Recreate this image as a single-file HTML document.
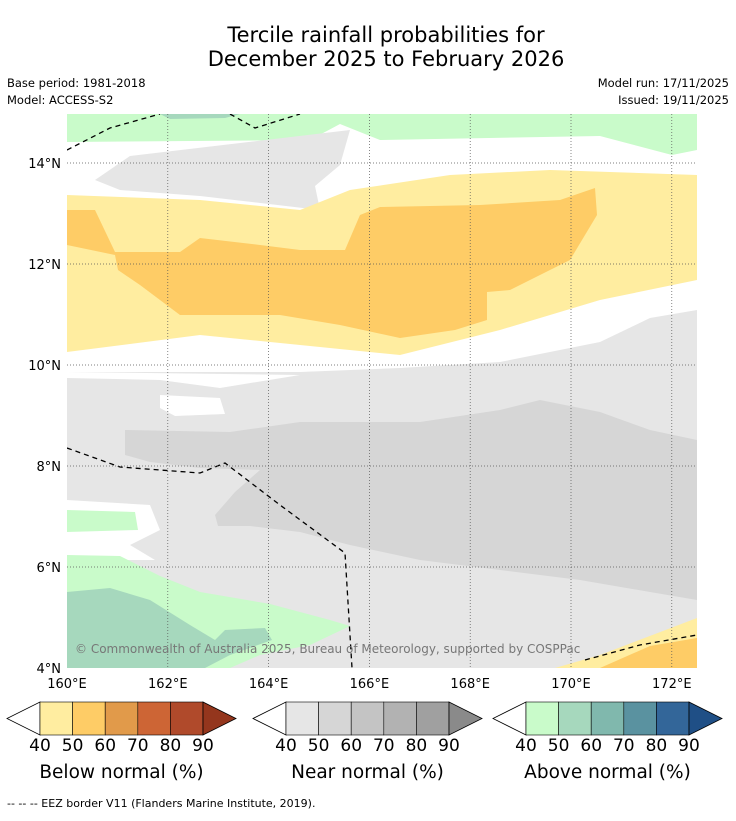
<!DOCTYPE html>
<html><head><meta charset="utf-8">
<style>
body{margin:0;background:#fff;font-family:"Liberation Sans","DejaVu Sans",sans-serif;}
svg text{font-family:"DejaVu Sans","Liberation Sans",sans-serif;}
</style></head>
<body>
<svg id="chart" width="736" height="816" xmlns="http://www.w3.org/2000/svg">
<rect width="736" height="816" fill="#fff"/>
<text x="386" y="42" font-size="21" text-anchor="middle">Tercile rainfall probabilities for</text>
<text x="386" y="66" font-size="21" text-anchor="middle">December 2025 to February 2026</text>
<text x="7" y="87" font-size="11.5">Base period: 1981-2018</text>
<text x="7" y="104" font-size="11.5">Model: ACCESS-S2</text>
<text x="729" y="87" font-size="11.5" text-anchor="end">Model run: 17/11/2025</text>
<text x="729" y="104" font-size="11.5" text-anchor="end">Issued: 19/11/2025</text>
<defs><clipPath id="mapclip"><rect x="67" y="114" width="630" height="554"/></clipPath></defs>
<g id="map" clip-path="url(#mapclip)"></g>
<g id="grid"></g>
<g id="axes"></g>
<text x="75" y="653" font-size="12" fill="#777">© Commonwealth of Australia 2025, Bureau of Meteorology, supported by COSPPac</text>
<g id="bars"></g>
<text x="7" y="807" font-size="11">--  --  -- EEZ border V11 (Flanders Marine Institute, 2019).</text>
</svg>
<script>
const lonTicks=[160,162,164,166,168,170,172];
const latTicks=[4,6,8,10,12,14];
const levels=[40,50,60,70,80,90];
const belowColors=["#ffeda0","#fecc66","#e19a4a","#cd6535","#b04a2b","#94361d"];
const nearColors=["#e6e6e6","#d6d6d6","#c4c4c4","#b2b2b2","#a0a0a0","#8a8a8a"];
const aboveColors=["#c9fbca","#a6d8bd","#80b8ad","#5a92a0","#336699","#1f4f86"];
const ns="http://www.w3.org/2000/svg";
const X=lon=>67+(lon-160)*50.4, Y=lat=>668-(lat-4)*50.5;
const P=(pts)=>pts.map(p=>[160+(p[0]-67)/50.4,4+(668-p[1])/50.5]);
const regions=[
 ["near-40",nearColors[0],P([[67,372],[300,372],[400,368],[500,362],[600,342],[650,318],[697,310],[697,668],[67,668]])],
 ["white-gap-1","#fff",P([[67,378],[160,380],[220,388],[300,375],[67,372]])],
 ["white-island","#fff",P([[160,395],[220,398],[225,414],[175,416],[160,408]])],
 ["near-50",nearColors[1],P([[125,430],[230,432],[300,422],[420,422],[500,410],[540,400],[600,412],[650,430],[697,440],[697,600],[650,592],[580,580],[500,570],[420,560],[350,545],[300,532],[250,526],[218,526],[215,515],[235,492],[260,470],[200,468],[150,462],[125,455]])],
 ["white-gap-left","#fff",P([[67,500],[150,505],[160,530],[130,545],[155,560],[67,560]])],
 ["above-40-left",aboveColors[0],P([[67,510],[135,512],[138,530],[67,532]])],
 ["above-40-bottom",aboveColors[0],P([[67,555],[120,556],[160,576],[200,592],[270,604],[330,620],[350,626],[310,645],[260,655],[230,668],[67,668]])],
 ["above-50-bottom",aboveColors[1],P([[67,592],[110,588],[150,600],[190,625],[215,640],[225,630],[265,628],[272,640],[230,655],[205,668],[67,668]])],
 ["white-top-gap","#fff",P([[67,140],[697,148],[697,178],[550,172],[450,177],[350,190],[300,210],[200,200],[67,195]])],
 ["above-40-top",aboveColors[0],P([[67,114],[697,114],[697,150],[672,155],[600,136],[380,140],[340,124],[310,140],[67,142]])],
 ["above-50-top",aboveColors[1],P([[160,114],[240,114],[225,118],[170,119]])],
 ["near-40-top",nearColors[0],P([[95,180],[130,156],[350,130],[340,165],[315,186],[320,210],[200,196],[120,190]])],
 ["below-40",belowColors[0],P([[67,195],[200,200],[300,210],[350,190],[450,175],[550,170],[697,175],[697,280],[600,300],[500,330],[400,355],[300,345],[200,335],[67,352]])],
 ["below-50",belowColors[1],P([[67,210],[95,210],[115,252],[180,252],[200,238],[260,245],[300,250],[345,250],[360,215],[380,207],[480,205],[560,200],[595,188],[597,215],[570,260],[510,290],[487,292],[487,320],[455,330],[400,338],[340,325],[280,315],[180,315],[140,285],[118,270],[115,255],[67,245]])],
 ["below-40-br",belowColors[0],P([[555,668],[600,655],[697,618],[697,668]])],
 ["below-50-br",belowColors[1],P([[600,668],[650,646],[697,638],[697,668]])]
];
const map=document.getElementById('map');
regions.forEach(r=>{
 const p=document.createElementNS(ns,'polygon');
 p.setAttribute('points',r[2].map(q=>X(q[0])+','+Y(q[1])).join(' '));
 p.setAttribute('fill',r[1]);
 
 
 map.appendChild(p);
});
const eez=[P([[67,448],[120,467],[200,473],[225,463],[280,505],[345,553],[352,668]]),P([[67,150],[110,128],[160,114]]),P([[230,114],[255,128],[300,114]]),P([[585,660],[640,645],[697,635]])];
eez.forEach(l=>{
 const pl=document.createElementNS(ns,'polyline');
 pl.setAttribute('points',l.map(q=>X(q[0])+','+Y(q[1])).join(' '));
 pl.setAttribute('fill','none');pl.setAttribute('stroke','#000');pl.setAttribute('stroke-width','1.3');pl.setAttribute('stroke-dasharray','5,4');
 
 
 map.appendChild(pl);
});
const grid=document.getElementById('grid'),axes=document.getElementById('axes');
lonTicks.forEach(l=>{
 if(l>160){const g=document.createElementNS(ns,'line');g.setAttribute('x1',X(l));g.setAttribute('x2',X(l));g.setAttribute('y1',114);g.setAttribute('y2',668);g.setAttribute('stroke','#555');g.setAttribute('stroke-width','0.7');g.setAttribute('stroke-dasharray','1,2');
 
 
 grid.appendChild(g);}
 const t=document.createElementNS(ns,'text');t.setAttribute('x',X(l));t.setAttribute('y',688);t.setAttribute('font-size','13');t.setAttribute('text-anchor','middle');t.textContent=l+'°E';
 
 
 axes.appendChild(t);
});
latTicks.forEach(l=>{
 if(l>4){const g=document.createElementNS(ns,'line');g.setAttribute('y1',Y(l));g.setAttribute('y2',Y(l));g.setAttribute('x1',67);g.setAttribute('x2',697);g.setAttribute('stroke','#555');g.setAttribute('stroke-width','0.7');g.setAttribute('stroke-dasharray','1,2');
 
 
 grid.appendChild(g);}
 const t=document.createElementNS(ns,'text');t.setAttribute('x',61);t.setAttribute('y',Y(l)+5);t.setAttribute('font-size','13');t.setAttribute('text-anchor','end');t.textContent=l+'°N';
 
 
 axes.appendChild(t);
});
const bars=document.getElementById('bars');
const specs=[["below",7,belowColors,"Below normal (%)"],["near",253,nearColors,"Near normal (%)"],["above",493,aboveColors,"Above normal (%)"]];
specs.forEach(s=>{
 const x0=s[1],bx=x0+33,w=32.6,y0=702,h=33;
 const g=document.createElementNS(ns,'g');
 
 
 bars.appendChild(g);
 const lt=document.createElementNS(ns,'polygon');lt.setAttribute('points',`${x0},${y0+h/2} ${bx},${y0} ${bx},${y0+h}`);lt.setAttribute('fill','#fff');lt.setAttribute('stroke','#000');lt.setAttribute('stroke-width','0.8');
 
 
 g.appendChild(lt);
 for(let i=0;i<5;i++){const r=document.createElementNS(ns,'rect');r.setAttribute('x',bx+i*w);r.setAttribute('y',y0);r.setAttribute('width',w);r.setAttribute('height',h);r.setAttribute('fill',s[2][i]);r.setAttribute('stroke','#000');r.setAttribute('stroke-width','0.6');
 
 
 g.appendChild(r);}
 const ex=bx+5*w;
 const rt=document.createElementNS(ns,'polygon');rt.setAttribute('points',`${ex},${y0} ${ex+33},${y0+h/2} ${ex},${y0+h}`);rt.setAttribute('fill',s[2][5]);rt.setAttribute('stroke','#000');rt.setAttribute('stroke-width','0.8');
 
 
 g.appendChild(rt);
 levels.forEach((v,i)=>{const t=document.createElementNS(ns,'text');t.setAttribute('x',bx+i*w);t.setAttribute('y',751);t.setAttribute('font-size','17');t.setAttribute('text-anchor','middle');t.textContent=v;
 
 
 g.appendChild(t);});
 const lab=document.createElementNS(ns,'text');lab.setAttribute('x',bx+2.5*w);lab.setAttribute('y',778);lab.setAttribute('font-size','18.5');lab.setAttribute('text-anchor','middle');lab.textContent=s[3];
 
 
 g.appendChild(lab);
});
</script>
</body></html>
